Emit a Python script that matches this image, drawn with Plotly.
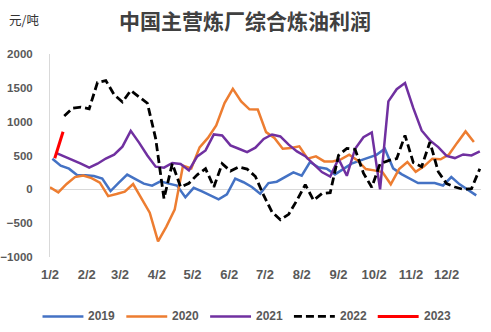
import pandas as pd
import plotly.graph_objects as go

# ---- data (weekly refinery margin, CNY/t) ----
v2019 = [453, 350, 305, 207, 207, 197, 160, -25, 100, 218, 150, 84, 55, 118, 84, 55,
         -118, 22, -30, -95, -148, -74, 157, 105, 34, -64, 93, 113, 182, 251, 202, 404,
         325, 305, 221, 300, 380, 425, 467, 510, 600, 310, 225, 157, 93, 93, 93, 57,
         182, 74, -5, -89]
v2020 = [30, -45, 80, 180, 205, 165, 100, -100, -70, -35, 78, -125, -345, -770, -550, -300,
         350, 310, 620, 760, 945, 1275, 1485, 1300, 1182, 1180, 846, 760, 600, 610, 635, 453,
         487, 413, 413, 443, 512, 428, 300, 280, 256, 75, 300, 405, 260, 340, 453, 445,
         515, 690, 856, 699]
v2021 = [540, 490, 438, 379, 320, 379, 455, 511, 630, 865, 690, 500, 335, 320, 390, 375,
         280, 487, 575, 811, 797, 649, 600, 551, 615, 745, 810, 782, 660, 560, 490, 370,
         255, 190, 450, 200, 600, 770, 840, 0, 1300, 1480, 1570, 1200, 870, 723, 624, 495,
         462, 516, 501, 560]
v2022 = [1085, 1200, 1215, 1190, 1580, 1608, 1400, 1290, 1460, 1362, 1273, 750, -138, 379, 34, 90,
         215, 305, 34, 379, 270, 330, 300, 190, -90, -335, -450, -369, -162, 70, -162, -64,
         -50, 502, 605, 590, 240, 30, 379, 425, 453, 797, 395, 335, 699, 260, 84, 34,
         0, 10, 305]
v2023 = [460, 850]

# first weekly observation of each year, placed on a common month/day axis
start_dates = {"2019": "2021-01-04", "2020": "2021-01-02", "2021": "2021-01-07",
               "2022": "2021-01-14", "2023": "2021-01-06"}
series_values = {"2019": v2019, "2020": v2020, "2021": v2021, "2022": v2022, "2023": v2023}

tick_dates = ["2021-%02d-02" % m for m in range(1, 13)]
tick_labels = ["%d/2" % m for m in range(1, 13)]

colors = {"2019": "#4472C4", "2020": "#ED7D31", "2021": "#7030A0",
          "2022": "#000000", "2023": "#FF0000"}
dashes = {"2019": "solid", "2020": "solid", "2021": "solid", "2022": "8px,4px", "2023": "solid"}
widths = {"2019": 2.5, "2020": 2.5, "2021": 2.5, "2022": 2.8, "2023": 3}

W, H = 491, 332
L, R, T, B = 49.5, 9.5, 53.5, 74.7
pw, ph = W - L - R, H - T - B


def px(xp):
    return (xp - L) / pw


def py(yp):
    return (H - B - yp) / ph


fig = go.Figure()
for name, vals in series_values.items():
    x = pd.date_range(start_dates[name], periods=len(vals), freq="7D")
    fig.add_trace(go.Scatter(
        x=x, y=vals, mode="lines", name=name, showlegend=False,
        line=dict(color=colors[name], width=widths[name], dash=dashes[name]),
    ))

# legend drawn as line samples + labels
legend_font = dict(family="Liberation Sans, Arial", size=12, color="#595959", weight="bold")
shapes, anns = [], []
leg_y = 317
leg_x0 = 42
for i, name in enumerate(series_values):
    x0 = leg_x0 + i * 84
    shapes.append(dict(type="line", xref="paper", yref="paper",
                       x0=px(x0), x1=px(x0 + 41), y0=py(leg_y), y1=py(leg_y),
                       line=dict(color=colors[name], width=widths[name], dash=dashes[name])))
    anns.append(dict(text=name, x=px(x0 + 44), y=py(leg_y), xref="paper", yref="paper",
                     xanchor="left", yanchor="middle", showarrow=False, font=legend_font))

anns.append(dict(text="中国主营炼厂综合炼油利润", x=px(244.5), y=py(19), xref="paper", yref="paper",
                 xanchor="center", yanchor="middle", showarrow=False,
                 font=dict(family="Noto Sans CJK SC", size=21, color="#404040", weight="bold")))
anns.append(dict(text="元/吨", x=px(6), y=py(19), xref="paper", yref="paper",
                 xanchor="left", yanchor="middle", showarrow=False,
                 font=dict(family="Noto Sans CJK SC", size=12.5, color="#333333")))

fig.update_layout(
    width=W, height=H,
    margin=dict(l=L, r=R, t=T, b=B, pad=0, autoexpand=False),
    paper_bgcolor="white", plot_bgcolor="white",
    showlegend=False,
    shapes=shapes, annotations=anns,
)

fig.update_xaxes(
    type="date", range=["2021-01-02", "2021-12-31"],
    tickvals=tick_dates, ticktext=tick_labels,
    showgrid=False, showline=False, zeroline=False, ticks="", automargin=False,
    tickfont=dict(family="Liberation Sans, Arial", size=13, color="#595959", weight="bold"),
    ticklabelstandoff=8,
)
fig.update_yaxes(
    range=[-1000, 2000], tickvals=[-1000, -500, 0, 500, 1000, 1500, 2000],
    showgrid=False, zeroline=True, zerolinecolor="#D9D9D9", zerolinewidth=1.3,
    showline=True, linecolor="#D9D9D9", linewidth=1, automargin=False,
    ticks="", tickfont=dict(family="Liberation Sans, Arial", size=11.5, color="#595959", weight="bold"),
    ticklabelstandoff=14,
)

fig.write_html("out.html")
